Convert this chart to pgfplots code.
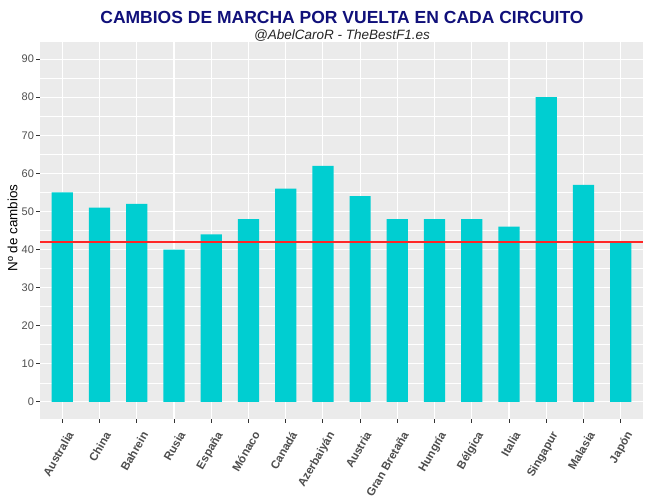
\documentclass[border=0pt]{standalone}
\usepackage{pgfplots}
\pgfplotsset{compat=1.18}
\usepackage{fontspec}
\setmainfont{Liberation Sans}
\definecolor{barc}{HTML}{00CED1}
\definecolor{panel}{HTML}{EBEBEB}
\definecolor{tickc}{HTML}{4D4D4D}
\definecolor{tickm}{HTML}{333333}
\definecolor{titlec}{HTML}{10107A}
\begin{document}
\begin{tikzpicture}[x=1bp,y=1bp]
\useasboundingbox (0,0) rectangle (649,499);
\begin{axis}[
  at={(40bp,80bp)}, anchor=south west,
  scale only axis, width=603bp, height=377bp,
  xmin=0.4, xmax=16.6, ymin=-4.5, ymax=94.5,
  axis background/.style={fill=panel},
  axis line style={draw=none},
  xtick={1,...,16},
  xticklabels={Australia,China,Bahrein,Rusia,España,Mónaco,Canadá,Azerbaiyán,Austria,Gran Bretaña,Hungría,Bélgica,Italia,Singapur,Malasia,Japón},
  ytick={0,10,...,90},
  minor ytick={5,15,...,85},
  grid=both,
  major grid style={white, line width=1.1bp},
  minor grid style={white, line width=0.55bp},
  tick align=outside,
  xtick pos=bottom, ytick pos=left,
  major tick length=4bp, minor tick length=0bp,
  tick style={color=tickm, line width=0.8bp},
  /pgf/number format/assume math mode=true,
  yticklabel style={font=\fontsize{11bp}{13bp}\selectfont, text=tickc, xshift=1.5bp},
  xticklabel style={font=\fontsize{11.5bp}{13bp}\selectfont\bfseries, text=tickc, rotate=60, anchor=north east, inner sep=0bp, yshift=-7.5bp, xshift=-4bp},
]
\addplot[ybar, bar width=0.57, fill=barc, draw=none] coordinates {
 (1,55) (2,51) (3,52) (4,40) (5,44) (6,48) (7,56) (8,62)
 (9,54) (10,48) (11,48) (12,48) (13,46) (14,80) (15,57) (16,42)
};
\addplot[red!85!white, line width=1.2bp, mark=none] coordinates {(0.4,42) (16.6,42)};
\end{axis}
\node[font=\fontsize{17.5bp}{20bp}\selectfont\bfseries, text=titlec, anchor=base] at (342,475) {CAMBIOS DE MARCHA POR VUELTA EN CADA CIRCUITO};
\node[font=\fontsize{13.5bp}{16bp}\selectfont\itshape, text=black!85, anchor=base] at (342,459.5) {@AbelCaroR - TheBestF1.es};
\node[font=\fontsize{13.4bp}{16bp}\selectfont, rotate=90, anchor=center] at (12.5,271) {Nº de cambios};
\end{tikzpicture}
\end{document}
